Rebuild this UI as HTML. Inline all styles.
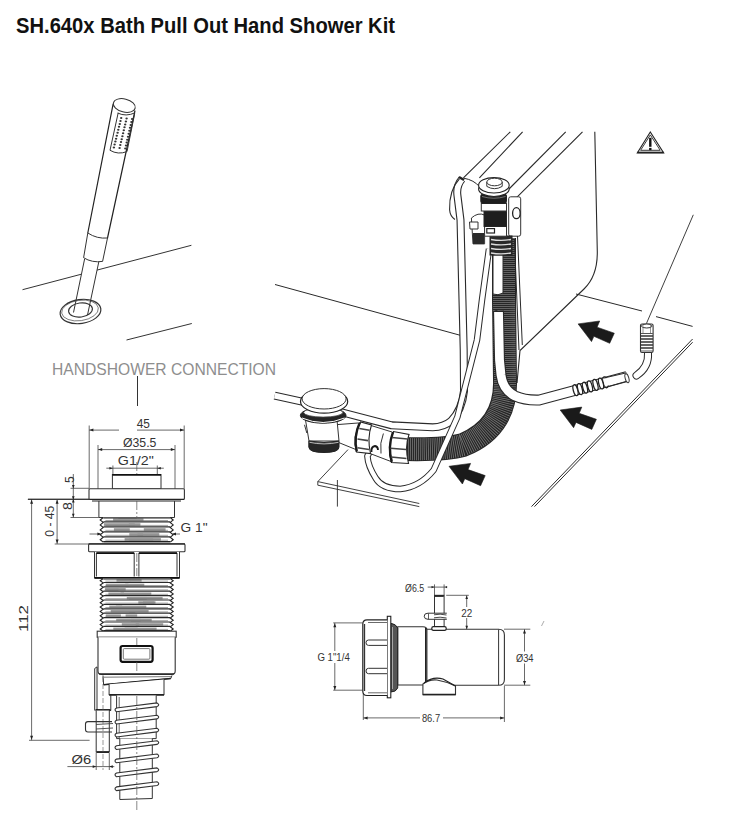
<!DOCTYPE html>
<html><head><meta charset="utf-8">
<style>
html,body{margin:0;padding:0;background:#fff;width:730px;height:821px;overflow:hidden}
svg{display:block;position:absolute;left:0;top:0}
.t{font-family:"Liberation Sans",sans-serif}
</style></head><body>
<svg width="730" height="821" viewBox="0 0 730 821">
<rect width="730" height="821" fill="#fff"/>
<text class="t" x="16" y="33.2" font-size="21.5" font-weight="bold" fill="#111" textLength="379" lengthAdjust="spacingAndGlyphs">SH.640x Bath Pull Out Hand Shower Kit</text>
<g fill="none" stroke="#333" stroke-width="1">
<path d="M22.5 289.7 L81 274.3 M97 270.1 L191.4 245.3"/>
<path d="M126.5 340 L191.8 323.5"/>
<ellipse cx="80.5" cy="311.5" rx="20.5" ry="12" transform="rotate(-8 80.5 311.5)" stroke-width="1.2"/>
<ellipse cx="80" cy="310.5" rx="18.5" ry="10.2" transform="rotate(-8 80 310.5)" stroke-width="0.6"/>
<ellipse cx="80.5" cy="310" rx="12" ry="7" transform="rotate(-8 80.5 310)" stroke-width="1.1"/>
<path d="M84.6 259 L73.5 312.5 M98.9 261.4 L87.5 315"/>
<path d="M87.8 233 L83.6 257.7 Q92 263 102.6 261.4 L107.5 238 Q97 239 87.8 233 Z" fill="#fff"/>
<path d="M113.2 103.7 L87.8 233 M135 110.5 L107.5 238" stroke="#222" stroke-width="1.2"/>
<ellipse cx="124.3" cy="105.5" rx="11.2" ry="6.5" transform="rotate(14 124.3 105.5)" fill="#fff"/>
<path d="M118.2 112.8 L110 150.3 Q118 155 127 151.6 L134.7 113.5 M117.6 113 Q126 117 135 112.8" />
<g fill="#333" stroke="none"><ellipse cx="121.2" cy="118.0" rx="1.2" ry="1.0"/><ellipse cx="120.5" cy="120.9" rx="1.2" ry="1.0"/><ellipse cx="119.8" cy="123.9" rx="1.2" ry="1.0"/><ellipse cx="119.0" cy="126.8" rx="1.2" ry="1.0"/><ellipse cx="118.3" cy="129.8" rx="1.2" ry="1.0"/><ellipse cx="117.6" cy="132.8" rx="1.2" ry="1.0"/><ellipse cx="116.8" cy="135.7" rx="1.2" ry="1.0"/><ellipse cx="116.1" cy="138.7" rx="1.2" ry="1.0"/><ellipse cx="115.4" cy="141.6" rx="1.2" ry="1.0"/><ellipse cx="114.6" cy="144.6" rx="1.2" ry="1.0"/><ellipse cx="113.9" cy="147.5" rx="1.2" ry="1.0"/><ellipse cx="126.6" cy="118.5" rx="1.2" ry="1.0"/><ellipse cx="125.9" cy="121.4" rx="1.2" ry="1.0"/><ellipse cx="125.2" cy="124.4" rx="1.2" ry="1.0"/><ellipse cx="124.5" cy="127.3" rx="1.2" ry="1.0"/><ellipse cx="123.8" cy="130.3" rx="1.2" ry="1.0"/><ellipse cx="123.1" cy="133.2" rx="1.2" ry="1.0"/><ellipse cx="122.4" cy="136.2" rx="1.2" ry="1.0"/><ellipse cx="121.7" cy="139.2" rx="1.2" ry="1.0"/><ellipse cx="121.0" cy="142.1" rx="1.2" ry="1.0"/><ellipse cx="120.3" cy="145.1" rx="1.2" ry="1.0"/><ellipse cx="119.6" cy="148.0" rx="1.2" ry="1.0"/><ellipse cx="132.1" cy="119.0" rx="1.2" ry="1.0"/><ellipse cx="131.4" cy="121.9" rx="1.2" ry="1.0"/><ellipse cx="130.7" cy="124.9" rx="1.2" ry="1.0"/><ellipse cx="130.0" cy="127.8" rx="1.2" ry="1.0"/><ellipse cx="129.4" cy="130.8" rx="1.2" ry="1.0"/><ellipse cx="128.7" cy="133.8" rx="1.2" ry="1.0"/><ellipse cx="128.0" cy="136.7" rx="1.2" ry="1.0"/><ellipse cx="127.3" cy="139.7" rx="1.2" ry="1.0"/><ellipse cx="126.7" cy="142.6" rx="1.2" ry="1.0"/><ellipse cx="126.0" cy="145.6" rx="1.2" ry="1.0"/><ellipse cx="125.3" cy="148.5" rx="1.2" ry="1.0"/></g>
</g>
<g fill="none" stroke="#333" stroke-width="1">
<path d="M510.3 131.8 L463.4 177.9 M522.6 131.8 L479.4 177.9 M565.7 131.8 L509 189 M582.5 131.8 L511.5 202.6" stroke="#2a2a2a" stroke-width="1.1"/>
<path d="M594.8 131.8 L597.3 252 Q597.5 276 584 289 L520 350.5 L517 383" stroke="#2a2a2a" stroke-width="1.1"/>
<path d="M576 294 L642 311 M656 316.6 L692.6 326.4" stroke="#2a2a2a" stroke-width="1"/>
<path d="M692.6 339 L531.5 506.6 M692.6 342.2 L534.5 506.6" stroke="#2a2a2a" stroke-width="1"/>
<path d="M693.3 214.8 L646.4 323.6" stroke="#2a2a2a" stroke-width="0.9"/>
<path d="M275 284.5 L461 335.5" stroke="#2a2a2a" stroke-width="1"/>
<path d="M348 449.6 L317.8 481.6 V485.2 L419.3 506.6 M317.8 481.6 L419.3 503.5 M337.4 480 V506.6" stroke="#2a2a2a" stroke-width="0.9"/>
<path d="M271 371 L276 361 M270 372 L270 366" stroke="#2a2a2a" stroke-width="0.8"/>
<path d="M578.1 323.9 L599.7 321.0 L597.1 327.2 L614.3 333.2 L609.7 343.3 L593.9 336.3 L591.5 341.6 Z" fill="#1a1a1a" stroke="#1a1a1a" stroke-width="0.6"/>
<path d="M560.2 410.0 L581.8 407.1 L579.2 413.3 L596.4 419.3 L591.8 429.4 L576.0 422.4 L573.6 427.7 Z" fill="#1a1a1a" stroke="#1a1a1a" stroke-width="0.6"/>
<path d="M449.0 466.3 L470.6 463.4 L468.0 469.6 L485.2 475.6 L480.6 485.7 L464.8 478.7 L462.4 484.0 Z" fill="#1a1a1a" stroke="#1a1a1a" stroke-width="0.6"/>
<path d="M462 179 Q456 186 457.5 196 L460.5 220 L463.7 350 L464 391 Q462 410 451 421 Q444 427 432.7 427.3 L391.6 425.3 L346.4 413.5 L302 401.7 L274.6 395.6" stroke="#2a2a2a" stroke-width="8" stroke-linejoin="round"/>
<path d="M462 179 Q456 186 457.5 196 L460.5 220 L463.7 350 L464 391 Q462 410 451 421 Q444 427 432.7 427.3 L391.6 425.3 L346.4 413.5 L302 401.7 L274.6 395.6" stroke="#fff" stroke-width="5.8" stroke-linejoin="round"/>
<path d="M459.4 178.8 Q449 190 449.6 209.7 Q450 216 454.9 219.5" stroke="#2a2a2a" stroke-width="1.1"/>
<path d="M459 177 L464 180" stroke="#222" stroke-width="2.5"/>
<path d="M463.8 178.2 Q474 180 479.7 186.9" stroke="#2a2a2a" stroke-width="1"/>
<path d="M504 238 L504 300 L505 380 C506 408 495 432 463 445 Q446 450 404 449" stroke="#262626" stroke-width="24" stroke-linejoin="round"/>
<path d="M504 238 L504 300 L505 380 C506 408 495 432 463 445 Q446 450 404 449" stroke="#777" stroke-width="22" stroke-dasharray="0.8 1.2" stroke-linejoin="round"/>
<path d="M498.5 312 L499.5 360 L501 375 Q503 390 515 396 Q525 400.5 539.3 400 L570 391.7 L627 376.5" stroke="#2a2a2a" stroke-width="11" stroke-linejoin="round"/>
<path d="M498.5 312 L499.5 360 L501 375 Q503 390 515 396 Q525 400.5 539.3 400 L570 391.7 L627 376.5" stroke="#fff" stroke-width="8.8" stroke-linejoin="round"/>
<path d="M493 255 L503 255 L503 293 Q498 296 493 294 Z" fill="#fff" stroke="#2a2a2a" stroke-width="1"/>
<path d="M493 312 Q498 308 504 310" stroke="#2a2a2a" stroke-width="1"/>
<ellipse cx="575.5" cy="390.2" rx="2.2" ry="5.6" transform="rotate(-15 575.5 390.2)" fill="#fff" stroke="#222" stroke-width="1.3"/>
<ellipse cx="580" cy="389.1" rx="2.2" ry="5.6" transform="rotate(-15 580 389.1)" fill="#fff" stroke="#222" stroke-width="1.3"/>
<ellipse cx="585" cy="387.7" rx="2.2" ry="5.6" transform="rotate(-15 585 387.7)" fill="#fff" stroke="#222" stroke-width="1.3"/>
<ellipse cx="590" cy="386.4" rx="2.2" ry="5.6" transform="rotate(-15 590 386.4)" fill="#fff" stroke="#222" stroke-width="1.3"/>
<ellipse cx="595.5" cy="384.9" rx="2.2" ry="5.6" transform="rotate(-15 595.5 384.9)" fill="#fff" stroke="#222" stroke-width="1.3"/>
<ellipse cx="601" cy="383.5" rx="2.2" ry="5.6" transform="rotate(-15 601 383.5)" fill="#fff" stroke="#222" stroke-width="1.3"/>
<ellipse cx="605.5" cy="382.3" rx="2.2" ry="5.6" transform="rotate(-15 605.5 382.3)" fill="#fff" stroke="#222" stroke-width="1.3"/>
<path d="M604 382.7 L626 376.9" stroke="#fff" stroke-width="7.5"/>
<path d="M604 378 L626.5 372.8 M605 387.5 L627.5 381" stroke="#2a2a2a" stroke-width="1"/>
<ellipse cx="627" cy="378.2" rx="1.8" ry="4.6" transform="rotate(-15 627 378.2)" fill="#fff" stroke="#333" stroke-width="1"/>
<path d="M648 353 Q649 367 636.5 375.5" stroke="#2a2a2a" stroke-width="8" stroke-linecap="round"/>
<path d="M648 353 Q649 367 636.5 375.5" stroke="#fff" stroke-width="6" stroke-linecap="round"/>
<rect x="640.5" y="324" width="12.6" height="28.5" rx="1.5" fill="#fff" stroke="#333" stroke-width="1.1"/>
<path d="M640.8 336 H653" stroke="#333" stroke-width="1.5"/>
<path d="M640.8 339 H653" stroke="#333" stroke-width="1.5"/>
<path d="M640.8 342 H653" stroke="#333" stroke-width="1.5"/>
<path d="M640.8 345 H653" stroke="#333" stroke-width="1.5"/>
<path d="M640.8 348 H653" stroke="#333" stroke-width="1.5"/>
<path d="M641 333.5 H652.8 M641 351 H652.8" stroke="#444" stroke-width="0.9"/>
<ellipse cx="646.8" cy="326" rx="5.4" ry="2" fill="#fff" stroke="#333" stroke-width="1"/>
<path d="M643 324.5 V333 M650.5 324.5 V333" stroke="#666" stroke-width="0.7"/>
<path d="M489 249 L482 300 L477 340 L457.4 417 L433.7 470 Q420 487 400.3 489 Q382 489 375.6 478 Q368 466 367.4 456.2 L372 448" stroke="#2a2a2a" stroke-width="6.5" stroke-linejoin="round"/>
<path d="M489 249 L482 300 L477 340 L457.4 417 L433.7 470 Q420 487 400.3 489 Q382 489 375.6 478 Q368 466 367.4 456.2 L372 448" stroke="#fff" stroke-width="4.5" stroke-linejoin="round"/>
<path d="M332 425 L358 423 L357 450 L335 441 Z" fill="#fff" stroke="none"/>
<path d="M332 425 L358 423 M335 441 L357 450" stroke="#333" stroke-width="1"/>
<path d="M370 425 L392 431.5 L392 462 L370 453.5 Z" fill="#fff" stroke="none"/>
<path d="M370 425.2 L392 432 M370 453.5 L391 461.5" stroke="#333" stroke-width="1"/>
<path d="M383.4 433.5 Q379.5 443 381 453.5" stroke="#333" stroke-width="1"/>
<path d="M360.5 422 Q352 437 356.5 452 L370.5 453.5 Q367 438 371.5 425 Z" fill="#fff" stroke="#222" stroke-width="1.1"/>
<path d="M359.8 422.6 Q353.3 437 356.8 451.5" stroke="#1a1a1a" stroke-width="2.4"/>
<path d="M359.3 428.5 L369.5 430.3 M357.5 439 L368 440.6 M357.5 447.8 L369 449.5" stroke="#444" stroke-width="1.6"/>
<path d="M393.5 431.5 Q386.5 447 391.5 462.5 L408.5 463.5 Q404.5 447 409 434.5 Z" fill="#fff" stroke="#222" stroke-width="1.1"/>
<path d="M393 432.2 Q387.5 447 391.8 461.8" stroke="#1a1a1a" stroke-width="2.4"/>
<path d="M392 437.5 L407.5 439 M390.5 448.3 L406 449.5 M391 457 L406.5 458.5" stroke="#444" stroke-width="1.6"/>
<path d="M371.5 452 Q371 446.5 375 446 Q378 446.5 378 450" stroke="#1a1a1a" stroke-width="1.8"/>
<path d="M305.5 420 L309 441 H339 L337 420 Z" fill="#fff" stroke="#333" stroke-width="1"/>
<path d="M308.8 441 V447 Q309 452.5 324 452.5 Q339 452.5 339 447 V441 Q324 444 308.8 441 Z" fill="#262626" stroke="#222" stroke-width="1"/>
<path d="M309.5 442.3 Q324 445.5 338.5 442.3" stroke="#ccc" stroke-width="0.9"/>
<path d="M304.5 424.8 L306.8 433" stroke="#333" stroke-width="1"/>
<ellipse cx="323.2" cy="415.4" rx="22.8" ry="7.8" fill="#262626" stroke="#222" stroke-width="1"/>
<ellipse cx="323.2" cy="412.5" rx="19.5" ry="4.6" fill="#fff" stroke="#444" stroke-width="0.8"/>
<path d="M302 418 Q323 427 344.5 418" stroke="#fff" stroke-width="1"/>
<ellipse cx="324.1" cy="401.5" rx="23.6" ry="11.6" fill="#fff" stroke="#222" stroke-width="1.2"/>
<ellipse cx="324.1" cy="398.8" rx="22" ry="10.2" fill="#fff" stroke="#333" stroke-width="1"/>
<rect x="508.7" y="196.8" width="12" height="39.4" rx="2" fill="#fff" stroke="#333" stroke-width="1"/>
<ellipse cx="516.4" cy="213.2" rx="3.8" ry="5.5" fill="#fff" stroke="#222" stroke-width="1.3"/>
<path d="M514.4 240 L519 350 M517.5 236 L522.3 345" stroke="#2a2a2a" stroke-width="1"/>
<path d="M471.4 218 Q478 212 484.6 215 V243.9 H473 Z" fill="#fff" stroke="#333" stroke-width="1"/>
<rect x="473" y="233" width="11" height="11" fill="#2b2b2b" stroke="none"/>
<path d="M469.5 222 H478 V229 H470 Z" fill="#fff" stroke="#333" stroke-width="1"/>
<rect x="490" y="236" width="22" height="19" fill="#2a2a2a" stroke="#222" stroke-width="1"/>
<path d="M491 239.5 Q501 241.3 511 239.5" stroke="#ddd" stroke-width="1.3"/>
<path d="M491 244 Q501 245.8 511 244" stroke="#ddd" stroke-width="1.3"/>
<path d="M491 248.5 Q501 250.3 511 248.5" stroke="#ddd" stroke-width="1.3"/>
<path d="M491 253 Q501 254.8 511 253" stroke="#ddd" stroke-width="1.3"/>
<rect x="484.6" y="226.4" width="21.9" height="9.8" fill="#fff" stroke="#333" stroke-width="1"/>
<rect x="486.8" y="228.6" width="7.7" height="4.4" fill="#fff" stroke="#222" stroke-width="1.2"/>
<rect x="484" y="211" width="22.5" height="15.4" fill="#1e1e1e" stroke="#222" stroke-width="1"/>
<rect x="481.3" y="203.4" width="25.2" height="7.6" fill="#fff" stroke="#333" stroke-width="1"/>
<rect x="480.8" y="194" width="25.7" height="9.4" rx="2" fill="#1e1e1e" stroke="#222" stroke-width="1"/>
<path d="M482 196.5 Q494 200 505.5 196.5" stroke="#888" stroke-width="0.8"/>
<ellipse cx="493.9" cy="189" rx="15.3" ry="7.5" fill="#fff" stroke="#222" stroke-width="1.1"/>
<ellipse cx="493.9" cy="185.3" rx="15.3" ry="7.7" fill="#fff" stroke="#222" stroke-width="1.1"/>
<path d="M486.8 182 V186.4 Q494.5 191 502.2 186.4 V182" fill="#fff" stroke="#333" stroke-width="1"/>
<ellipse cx="494.5" cy="182" rx="7.7" ry="3.8" fill="#fff" stroke="#333" stroke-width="1"/>
<path d="M650.3 132 L637.3 152.9 L663.7 152.9 Z" fill="#fff" stroke="#222" stroke-width="1.1" stroke-linejoin="miter"/>
<path d="M650.3 134.9 L640.6 150.3 L660.2 150.3 Z" fill="#fff" stroke="#222" stroke-width="0.9"/>
<path d="M637.5 152.4 H663.5" stroke="#222" stroke-width="1.5"/>
<rect x="649.1" y="137.8" width="2.4" height="9" fill="#111" stroke="none"/><rect x="649.1" y="147.9" width="2.4" height="2.2" fill="#111" stroke="none"/>
</g>
<rect x="45" y="355" width="235" height="20" fill="#fff"/>
<text class="t" x="52" y="375" font-size="16.5" fill="#8e8e8e" textLength="224" lengthAdjust="spacingAndGlyphs">HANDSHOWER CONNECTION</text>
<line x1="137.5" y1="376" x2="137.5" y2="406" stroke="#333" stroke-width="1"/>
<g fill="none" stroke="#333" stroke-width="1">
<path d="M89.2 425.5 V488.8 M184.2 425.5 V488.8" stroke="#444" stroke-width="0.8"/>
<path d="M89.2 430.1 H119 M137 430.1 H184.2" stroke="#444" stroke-width="0.8"/>
<path d="M89.4 430.1 L93.4 428.6 L93.4 431.6 Z" fill="#222" stroke="none"/>
<path d="M184.0 430.1 L180.0 431.6 L180.0 428.6 Z" fill="#222" stroke="none"/>
<path d="M98 445 V499.5 M175 445 V499.5" stroke="#444" stroke-width="0.8"/>
<path d="M98 449.6 H175" stroke="#444" stroke-width="0.8"/>
<path d="M98.2 449.6 L102.2 448.1 L102.2 451.1 Z" fill="#222" stroke="none"/>
<path d="M174.8 449.6 L170.8 451.1 L170.8 448.1 Z" fill="#222" stroke="none"/>
<path d="M106.3 468.2 H163.8 M112.9 465.5 V474.5 M157.3 465.5 V474.5" stroke="#444" stroke-width="0.8"/>
<path d="M112.9 468.2 L109.4 469.5 L109.4 466.9 Z" fill="#222" stroke="none"/>
<path d="M157.3 468.2 L160.8 466.9 L160.8 469.5 Z" fill="#222" stroke="none"/>
<rect x="112.4" y="474.5" width="48.6" height="14.3" fill="none" stroke="#333" stroke-width="1"/>
<path d="M112.4 474.8 H161" stroke="#111" stroke-width="1.8"/>
<rect x="89" y="488.8" width="95.4" height="10.7" rx="1" fill="#fff" stroke="#333" stroke-width="1.1"/>
<path d="M89.5 499.4 H184 M92 501 H181" stroke="#222" stroke-width="1.1"/>
<path d="M98.9 501 V517.5 H174.5 V501" fill="none" stroke="#333" stroke-width="1"/>
<rect x="102.9" y="517.5" width="67.6" height="24.700000000000045" fill="#fff" stroke="none"/><rect x="113.1" y="518.3" width="23.6" height="2.7" fill="#9a9a9a" stroke="none"/><rect x="118.4" y="518.3" width="25.1" height="2.7" fill="#9a9a9a" stroke="none"/><path d="M103.4 521.9 L170 521.9" stroke="#2a2a2a" stroke-width="1.2"/><path d="M105.4 520.5 L168 520.5" stroke="#666" stroke-width="0.6"/><rect x="128.8" y="523.2" width="11.6" height="2.7" fill="#9a9a9a" stroke="none"/><rect x="103.9" y="523.2" width="30.9" height="2.7" fill="#9a9a9a" stroke="none"/><path d="M103.4 526.9 L170 526.9" stroke="#2a2a2a" stroke-width="1.2"/><path d="M105.4 525.4 L168 525.4" stroke="#666" stroke-width="0.6"/><rect x="113.9" y="528.2" width="15.9" height="2.7" fill="#9a9a9a" stroke="none"/><rect x="143.8" y="528.2" width="21.8" height="2.7" fill="#9a9a9a" stroke="none"/><path d="M103.4 531.8 L170 531.8" stroke="#2a2a2a" stroke-width="1.2"/><path d="M105.4 530.3 L168 530.3" stroke="#666" stroke-width="0.6"/><rect x="137.4" y="533.1" width="21.9" height="2.7" fill="#9a9a9a" stroke="none"/><rect x="129.3" y="533.1" width="13.8" height="2.7" fill="#9a9a9a" stroke="none"/><path d="M103.4 536.8 L170 536.8" stroke="#2a2a2a" stroke-width="1.2"/><path d="M105.4 535.3 L168 535.3" stroke="#666" stroke-width="0.6"/><rect x="129.2" y="538.1" width="31.7" height="2.7" fill="#9a9a9a" stroke="none"/><rect x="124.6" y="538.1" width="28.5" height="2.7" fill="#9a9a9a" stroke="none"/><path d="M103.4 541.7 L170 541.7" stroke="#2a2a2a" stroke-width="1.2"/><path d="M105.4 540.2 L168 540.2" stroke="#666" stroke-width="0.6"/><path d="M103.2 517.5 L103.2 517.5 L100.2 520.0 L103.2 522.4 L100.2 524.9 L103.2 527.4 L100.2 529.9 L103.2 532.3 L100.2 534.8 L103.2 537.3 L100.2 539.7 L103.2 542.2" stroke="#222" stroke-width="1.1" fill="none"/><path d="M170.2 517.5 L170.2 517.5 L173.2 520.0 L170.2 522.4 L173.2 524.9 L170.2 527.4 L173.2 529.9 L170.2 532.3 L173.2 534.8 L170.2 537.3 L173.2 539.7 L170.2 542.2" stroke="#222" stroke-width="1.1" fill="none"/><path d="M103.4 518.0 H170 M103.4 541.7 H170" stroke="#222" stroke-width="1.2"/>
<path d="M89.5 534 H100 M173 534 H180" stroke="#444" stroke-width="0.8"/>
<path d="M101.4 534.0 L97.4 535.5 L97.4 532.5 Z" fill="#222" stroke="none"/>
<path d="M172.0 534.0 L176.0 532.5 L176.0 535.5 Z" fill="#222" stroke="none"/>
<rect x="88.6" y="544" width="96.4" height="7.8" rx="1" fill="#fff" stroke="#333" stroke-width="1.1"/>
<path d="M88.6 543.8 H185" stroke="#222" stroke-width="1.3"/>
<path d="M94.5 551.8 V578.1 H179.5 V551.8" fill="#fff" stroke="#333" stroke-width="1"/>
<path d="M94.5 577.8 H179.5" stroke="#111" stroke-width="1.8"/>
<path d="M96.4 576.5 V553 H134.2 V576.5 M138.9 576.5 V553 H177 V576.5" fill="none" stroke="#333" stroke-width="1"/>
<path d="M96.4 553.2 H134.2 M138.9 553.2 H177" stroke="#111" stroke-width="1.7"/>
<rect x="102.9" y="578.5" width="67.6" height="52.700000000000045" fill="#fff" stroke="none"/><rect x="116.5" y="579.3" width="13.8" height="2.4" fill="#9a9a9a" stroke="none"/><rect x="129.8" y="579.3" width="11.8" height="2.4" fill="#9a9a9a" stroke="none"/><path d="M103.4 582.5 L170 582.5" stroke="#2a2a2a" stroke-width="1.2"/><path d="M105.4 581.1 L168 581.1" stroke="#666" stroke-width="0.6"/><rect x="125.2" y="583.7" width="19.1" height="2.4" fill="#9a9a9a" stroke="none"/><rect x="105.8" y="583.7" width="22.7" height="2.4" fill="#9a9a9a" stroke="none"/><path d="M103.4 586.8 L170 586.8" stroke="#2a2a2a" stroke-width="1.2"/><path d="M105.4 585.5 L168 585.5" stroke="#666" stroke-width="0.6"/><rect x="104.9" y="588.1" width="20.8" height="2.4" fill="#9a9a9a" stroke="none"/><rect x="106.2" y="588.1" width="12.3" height="2.4" fill="#9a9a9a" stroke="none"/><path d="M103.4 591.2 L170 591.2" stroke="#2a2a2a" stroke-width="1.2"/><path d="M105.4 589.9 L168 589.9" stroke="#666" stroke-width="0.6"/><rect x="120.6" y="592.5" width="30.7" height="2.4" fill="#9a9a9a" stroke="none"/><rect x="108.4" y="592.5" width="15.6" height="2.4" fill="#9a9a9a" stroke="none"/><path d="M103.4 595.6 L170 595.6" stroke="#2a2a2a" stroke-width="1.2"/><path d="M105.4 594.3 L168 594.3" stroke="#666" stroke-width="0.6"/><rect x="128.9" y="596.9" width="33.7" height="2.4" fill="#9a9a9a" stroke="none"/><rect x="126.8" y="596.9" width="19.9" height="2.4" fill="#9a9a9a" stroke="none"/><path d="M103.4 600.0 L170 600.0" stroke="#2a2a2a" stroke-width="1.2"/><path d="M105.4 598.7 L168 598.7" stroke="#666" stroke-width="0.6"/><rect x="143.0" y="601.3" width="11.2" height="2.4" fill="#9a9a9a" stroke="none"/><rect x="138.3" y="601.3" width="17.2" height="2.4" fill="#9a9a9a" stroke="none"/><path d="M103.4 604.4 L170 604.4" stroke="#2a2a2a" stroke-width="1.2"/><path d="M105.4 603.1 L168 603.1" stroke="#666" stroke-width="0.6"/><rect x="109.3" y="605.6" width="12.9" height="2.4" fill="#9a9a9a" stroke="none"/><rect x="115.9" y="605.6" width="30.4" height="2.4" fill="#9a9a9a" stroke="none"/><path d="M103.4 608.8 L170 608.8" stroke="#2a2a2a" stroke-width="1.2"/><path d="M105.4 607.5 L168 607.5" stroke="#666" stroke-width="0.6"/><rect x="110.7" y="610.0" width="24.5" height="2.4" fill="#9a9a9a" stroke="none"/><rect x="129.3" y="610.0" width="19.3" height="2.4" fill="#9a9a9a" stroke="none"/><path d="M103.4 613.2 L170 613.2" stroke="#2a2a2a" stroke-width="1.2"/><path d="M105.4 611.9 L168 611.9" stroke="#666" stroke-width="0.6"/><rect x="125.6" y="614.4" width="11.6" height="2.4" fill="#9a9a9a" stroke="none"/><rect x="105.8" y="614.4" width="15.1" height="2.4" fill="#9a9a9a" stroke="none"/><path d="M103.4 617.6 L170 617.6" stroke="#2a2a2a" stroke-width="1.2"/><path d="M105.4 616.3 L168 616.3" stroke="#666" stroke-width="0.6"/><rect x="131.0" y="618.8" width="20.7" height="2.4" fill="#9a9a9a" stroke="none"/><rect x="116.2" y="618.8" width="24.6" height="2.4" fill="#9a9a9a" stroke="none"/><path d="M103.4 622.0 L170 622.0" stroke="#2a2a2a" stroke-width="1.2"/><path d="M105.4 620.7 L168 620.7" stroke="#666" stroke-width="0.6"/><rect x="121.8" y="623.2" width="17.5" height="2.4" fill="#9a9a9a" stroke="none"/><rect x="135.7" y="623.2" width="27.5" height="2.4" fill="#9a9a9a" stroke="none"/><path d="M103.4 626.4 L170 626.4" stroke="#2a2a2a" stroke-width="1.2"/><path d="M105.4 625.1 L168 625.1" stroke="#666" stroke-width="0.6"/><rect x="113.3" y="627.6" width="24.4" height="2.4" fill="#9a9a9a" stroke="none"/><rect x="124.7" y="627.6" width="31.9" height="2.4" fill="#9a9a9a" stroke="none"/><path d="M103.4 630.8 L170 630.8" stroke="#2a2a2a" stroke-width="1.2"/><path d="M105.4 629.4 L168 629.4" stroke="#666" stroke-width="0.6"/><path d="M103.2 578.5 L103.2 578.5 L100.2 580.7 L103.2 582.9 L100.2 585.1 L103.2 587.3 L100.2 589.5 L103.2 591.7 L100.2 593.9 L103.2 596.1 L100.2 598.3 L103.2 600.5 L100.2 602.7 L103.2 604.9 L100.2 607.0 L103.2 609.2 L100.2 611.4 L103.2 613.6 L100.2 615.8 L103.2 618.0 L100.2 620.2 L103.2 622.4 L100.2 624.6 L103.2 626.8 L100.2 629.0 L103.2 631.2" stroke="#222" stroke-width="1.1" fill="none"/><path d="M170.2 578.5 L170.2 578.5 L173.2 580.7 L170.2 582.9 L173.2 585.1 L170.2 587.3 L173.2 589.5 L170.2 591.7 L173.2 593.9 L170.2 596.1 L173.2 598.3 L170.2 600.5 L173.2 602.7 L170.2 604.9 L173.2 607.0 L170.2 609.2 L173.2 611.4 L170.2 613.6 L173.2 615.8 L170.2 618.0 L173.2 620.2 L170.2 622.4 L173.2 624.6 L170.2 626.8 L173.2 629.0 L170.2 631.2" stroke="#222" stroke-width="1.1" fill="none"/><path d="M103.4 579.0 H170 M103.4 630.7 H170" stroke="#222" stroke-width="1.2"/>
<path d="M94.7 668.5 L97 666.9 V710.5 H110.8 V683" fill="#fff" stroke="#333" stroke-width="1"/>
<path d="M94.7 668.5 V710.5" stroke="#333" stroke-width="1"/>
<path d="M95.5 710 H110.5" stroke="#111" stroke-width="1.8"/>
<path d="M96.2 710.5 V752.2 H109.3 V710.5" fill="#fff" stroke="#333" stroke-width="1"/>
<path d="M96.6 752 H109" stroke="#111" stroke-width="1.6"/>
<path d="M103 670 V770" stroke="#555" stroke-width="0.6" stroke-dasharray="5 2"/>
<rect x="97.2" y="631.2" width="79" height="6" fill="#fff" stroke="#333" stroke-width="1.1"/>
<path d="M98 637.3 V671 Q98 674.5 101.5 674.5 H171.7 Q175.2 674.5 175.2 671 V637.3" fill="#fff" stroke="#333" stroke-width="1.1"/>
<path d="M99 673.8 H174" stroke="#222" stroke-width="1.3"/>
<rect x="120.6" y="646" width="32" height="15.8" rx="2" fill="#fff" stroke="#111" stroke-width="2.2"/>
<rect x="123.3" y="648.6" width="26.6" height="10.6" rx="1" fill="#fff" stroke="#555" stroke-width="0.8"/>
<path d="M103 675.5 L103.6 684.7 L170.8 678.5 L172 675.4" fill="#fff" stroke="#333" stroke-width="1"/>
<path d="M103.6 684.7 L170.8 678.5" stroke="#222" stroke-width="1.6"/>
<path d="M104 677.2 L171 676.6" stroke="#555" stroke-width="0.8"/>
<path d="M109.1 684.2 V695.1 H164 V679.4" fill="#fff" stroke="#333" stroke-width="1"/>
<path d="M109.1 694.8 H164" stroke="#222" stroke-width="1.4"/>
<path d="M116.6 695.5 V738.6 H156.2 V695.5" fill="#fff" stroke="#333" stroke-width="1"/>
<path d="M119.8 738.6 V799.5 L152.3 798.5 V738.6" fill="#fff" stroke="#333" stroke-width="1"/>
<path d="M119.2 697 V738" stroke="#444" stroke-width="0.8"/>
<path d="M116.5 711.7 Q113.5 709.7 116.5 708.0 L157 702.9 Q160.5 704.8 157 706.6 Z" fill="#fff" stroke="#333" stroke-width="1.1"/>
<path d="M116.5 724.0 Q113.5 722.0 116.5 720.3 L157 715.2 Q160.5 717.1 157 718.9 Z" fill="#fff" stroke="#333" stroke-width="1.1"/>
<path d="M116.5 737.0 Q113.5 735.0 116.5 733.3 L157 728.2 Q160.5 730.1 157 731.9 Z" fill="#fff" stroke="#333" stroke-width="1.1"/>
<path d="M116.5 749.5 Q113.5 747.5 116.5 745.8 L157 740.7 Q160.5 742.6 157 744.4 Z" fill="#fff" stroke="#333" stroke-width="1.1"/>
<path d="M116.5 762.8 Q113.5 760.8 116.5 759.1 L157 754.0 Q160.5 755.9 157 757.7 Z" fill="#fff" stroke="#333" stroke-width="1.1"/>
<path d="M116.5 776.7 Q113.5 774.7 116.5 773.0 L157 767.9 Q160.5 769.8 157 771.6 Z" fill="#fff" stroke="#333" stroke-width="1.1"/>
<path d="M116.5 790.6 Q113.5 788.6 116.5 786.9 L157 781.8 Q160.5 783.7 157 785.5 Z" fill="#fff" stroke="#333" stroke-width="1.1"/>
<path d="M112 721.6 H88 Q85.5 721.6 85.5 724 V729.5 Q85.5 732 88 732 H112" fill="none" stroke="#333" stroke-width="1.1"/>
<path d="M96 724.5 L113 723.5 M96 729 L113 728" stroke="#444" stroke-width="0.9"/>
<path d="M27.9 499.3 H89 M31.6 499.3 V740.3 M29 740.3 H89.6" stroke="#444" stroke-width="0.8"/>
<path d="M27.9 499.3 H89" stroke="#222" stroke-width="1.1"/>
<path d="M31.6 499.8 L33.1 503.8 L30.1 503.8 Z" fill="#222" stroke="none"/>
<path d="M31.6 739.8 L30.1 735.8 L33.1 735.8 Z" fill="#222" stroke="none"/>
<path d="M73.3 474 V517.5 M70.5 488.3 H89 M70.5 517.5 H98.9" stroke="#444" stroke-width="0.8"/>
<path d="M73.3 488.6 L72.0 485.1 L74.6 485.1 Z" fill="#222" stroke="none"/>
<path d="M73.3 499.0 L74.6 502.5 L72.0 502.5 Z" fill="#222" stroke="none"/>
<path d="M73.3 499.8 L72.0 496.3 L74.6 496.3 Z" fill="#222" stroke="none"/>
<path d="M73.3 517.2 L72.0 513.7 L74.6 513.7 Z" fill="#222" stroke="none"/>
<path d="M57.1 499.3 V544 M54.7 544 H89" stroke="#444" stroke-width="0.8"/>
<path d="M57.1 499.8 L58.6 503.8 L55.6 503.8 Z" fill="#222" stroke="none"/>
<path d="M57.1 543.5 L55.6 539.5 L58.6 539.5 Z" fill="#222" stroke="none"/>
<path d="M67.4 766.6 H114.3 M96.2 752.6 V770 M109.3 752.6 V770" stroke="#444" stroke-width="0.8"/>
<path d="M96.2 766.6 L92.7 767.9 L92.7 765.3 Z" fill="#222" stroke="none"/>
<path d="M109.3 766.6 L112.8 765.3 L112.8 767.9 Z" fill="#222" stroke="none"/>
<text class="t" fill="#333" stroke="none" x="143.3" y="428.1" font-size="12.5" text-anchor="middle" textLength="13.2" lengthAdjust="spacingAndGlyphs">45</text>
<text class="t" fill="#333" stroke="none" x="123" y="446.5" font-size="12.8" textLength="33.4" lengthAdjust="spacingAndGlyphs">Ø35.5</text>
<text class="t" fill="#333" stroke="none" x="117.8" y="465.1" font-size="12.8" textLength="36" lengthAdjust="spacingAndGlyphs">G1/2"</text>
<text class="t" fill="#333" stroke="none" x="180.6" y="532.3" font-size="12.5" textLength="27" lengthAdjust="spacingAndGlyphs">G 1"</text>
<text class="t" fill="#333" stroke="none" font-size="12.5" transform="translate(73.6 483.1) rotate(-90)" textLength="6.7" lengthAdjust="spacingAndGlyphs">5</text>
<text class="t" fill="#333" stroke="none" font-size="12.5" transform="translate(72.4 510) rotate(-90)" textLength="8" lengthAdjust="spacingAndGlyphs">8</text>
<text class="t" fill="#333" stroke="none" font-size="12.5" transform="translate(53.5 536.7) rotate(-90)" textLength="31" lengthAdjust="spacingAndGlyphs">0 - 45</text>
<text class="t" fill="#333" stroke="none" font-size="12.5" transform="translate(28 632) rotate(-90)" textLength="27" lengthAdjust="spacingAndGlyphs">112</text>
<text class="t" fill="#333" stroke="none" x="71.5" y="764.1" font-size="13.5" textLength="19.7" lengthAdjust="spacingAndGlyphs">Ø6</text>
<path d="M136.8 462 V474 M136.8 501 V517 M136.8 553 V576 M136.8 638 V645 M136.8 662 V673 M136.8 696 V810" stroke="#555" stroke-width="0.7" stroke-dasharray="9 2 2 2"/>
</g>
<g fill="none" stroke="#333" stroke-width="1">
<path d="M333.2 622.9 H362.5 M333.2 690.2 H362.5 M334.8 622.9 V690.2" stroke="#444" stroke-width="0.8"/>
<path d="M334.8 623.2 L336.3 627.2 L333.3 627.2 Z" fill="#222" stroke="none"/>
<path d="M334.8 689.9 L333.3 685.9 L336.3 685.9 Z" fill="#222" stroke="none"/>
<path d="M504 629.2 H530.3 M504 685.2 H530.3 M524.5 629.2 V685.2" stroke="#444" stroke-width="0.8"/>
<path d="M524.5 629.5 L526.0 633.5 L523.0 633.5 Z" fill="#222" stroke="none"/>
<path d="M524.5 684.9 L523.0 680.9 L526.0 680.9 Z" fill="#222" stroke="none"/>
<path d="M363.3 693.4 V720 M504.4 686 V722 M363.3 717.9 H504.4" stroke="#444" stroke-width="0.8"/>
<path d="M363.6 717.9 L367.6 716.4 L367.6 719.4 Z" fill="#222" stroke="none"/>
<path d="M504.1 717.9 L500.1 719.4 L500.1 716.4 Z" fill="#222" stroke="none"/>
<path d="M427.7 587.1 H444.8 M434.5 584.4 V595.3 M444.1 584.4 V595.3" stroke="#444" stroke-width="0.8"/>
<path d="M434.5 587.1 L431.5 588.3 L431.5 585.9 Z" fill="#222" stroke="none"/>
<path d="M444.1 587.1 L447.1 585.9 L447.1 588.3 Z" fill="#222" stroke="none"/>
<path d="M446.2 595.3 H468.8 M466.7 595.3 V629.5" stroke="#444" stroke-width="0.8"/>
<path d="M466.7 595.6 L468.0 599.1 L465.4 599.1 Z" fill="#222" stroke="none"/>
<path d="M466.7 629.2 L465.4 625.7 L468.0 625.7 Z" fill="#222" stroke="none"/>
<path d="M426 629.2 H498.6 Q504.4 629.2 504.4 635 V679.4 Q504.4 685.2 498.6 685.2 H426" fill="#fff" stroke="#333" stroke-width="1.1"/>
<path d="M498.6 629.5 V685" stroke="#333" stroke-width="1"/>
<path d="M397.7 626.8 H423 Q426.9 626.8 426.9 630 V682 Q426.9 685 423 685 H397.7 Z" fill="#fff" stroke="#333" stroke-width="1.1"/>
<path d="M425.8 628 V684" stroke="#222" stroke-width="1.6"/>
<path d="M422.9 694.8 V684 Q430 679 437 680 Q446 681.5 455.5 686 V694.8 Z" fill="#fff" stroke="#333" stroke-width="1.1"/>
<path d="M422.9 694.5 H455.5" stroke="#222" stroke-width="1.4"/>
<path d="M424 683 Q433 676 443 679 L455.5 686" stroke="#222" stroke-width="1.2"/>
<path d="M390.8 623.3 Q396 624 397.7 628 V688 Q396 692 390.8 692 Z" fill="#555" stroke="#222" stroke-width="1"/>
<path d="M392.5 627 V689" stroke="#bbb" stroke-width="0.8"/>
<rect x="387.3" y="616.3" width="3.5" height="81.5" fill="#fff" stroke="#222" stroke-width="1.1"/>
<path d="M387.3 619.8 H367 Q362.8 619.8 362.8 624 V691.3 Q362.8 695.5 367 695.5 H387.3" fill="#fff" stroke="#222" stroke-width="1.2"/>
<path d="M364.5 624 V691" stroke="#333" stroke-width="1.3"/>
<path d="M368 622.5 H387 M368 692.8 H387" stroke="#444" stroke-width="0.8"/>
<path d="M387 640.0 H368.5 Q366 640.0 366 642.7 Q366 645.4 368.5 645.4 H387" fill="#fff" stroke="#333" stroke-width="1"/>
<path d="M387 668.3 H368.5 Q366 668.3 366 671.0 Q366 673.7 368.5 673.7 H387" fill="#fff" stroke="#333" stroke-width="1"/>
<rect x="434.5" y="595.3" width="9.6" height="33" fill="#fff" stroke="#333" stroke-width="1"/>
<path d="M434.8 596 H443.8" stroke="#222" stroke-width="1.8"/>
<rect x="431.8" y="626.6" width="14.4" height="3.7" rx="1.6" fill="#fff" stroke="#222" stroke-width="1.2"/>
<path d="M446.8 613.2 H428 Q424.2 613.2 424.2 616.2 Q424.2 619.3 428 619.3 H446.8" fill="#fff" stroke="#333" stroke-width="1"/>
<path d="M434 614.8 Q440 613.5 446.5 615 M434 617.8 Q440 616.5 446.5 618" stroke="#333" stroke-width="0.9"/>
<path d="M428.5 613.5 V619" stroke="#333" stroke-width="0.8"/>
<rect x="316" y="651" width="35" height="12" fill="#fff" stroke="none"/>
<text class="t" fill="#333" stroke="none" x="317.4" y="661.4" font-size="11.6" textLength="32.4" lengthAdjust="spacingAndGlyphs">G 1"1/4</text>
<rect x="514.5" y="651.5" width="20.5" height="12" fill="#fff" stroke="none"/>
<text class="t" fill="#333" stroke="none" x="515.9" y="661.8" font-size="11.6" textLength="17.6" lengthAdjust="spacingAndGlyphs">Ø34</text>
<rect x="420" y="711.5" width="23" height="12" fill="#fff" stroke="none"/>
<text class="t" fill="#333" stroke="none" x="421.9" y="722.2" font-size="11.6" textLength="18.2" lengthAdjust="spacingAndGlyphs">86.7</text>
<text class="t" fill="#333" stroke="none" x="405.1" y="591.9" font-size="10.6" textLength="19.1" lengthAdjust="spacingAndGlyphs">Ø6.5</text>
<rect x="460" y="607" width="13.5" height="11" fill="#fff" stroke="none"/>
<text class="t" fill="#333" stroke="none" x="461.2" y="616.6" font-size="10.8" textLength="11" lengthAdjust="spacingAndGlyphs">22</text>
<path d="M541.5 626 L544 621" stroke="#888" stroke-width="0.7"/>
</g>
</svg>
</body></html>
